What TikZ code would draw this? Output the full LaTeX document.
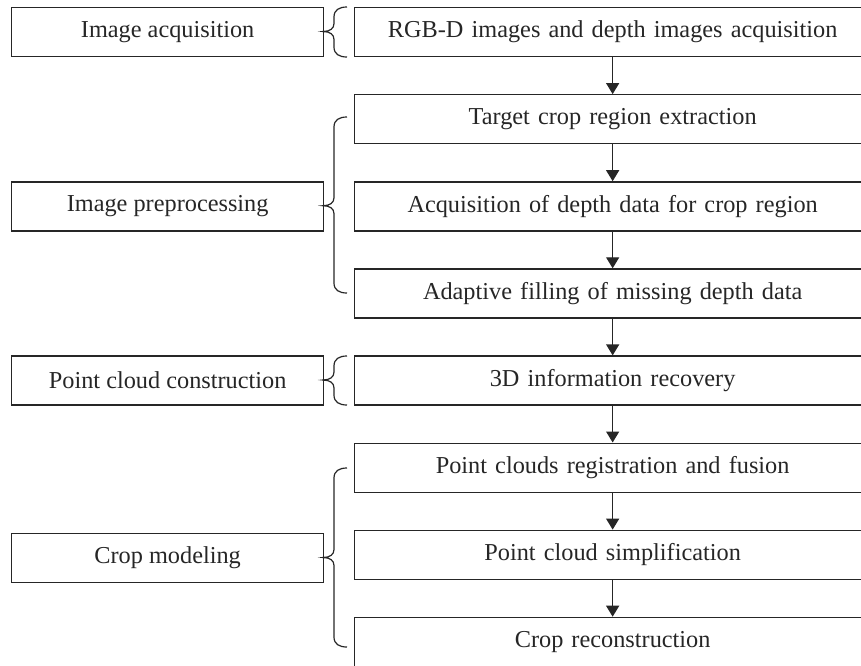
\documentclass[tikz,border=0pt]{standalone}
\usepackage{fontspec}
\setmainfont{Liberation Serif}
\usetikzlibrary{arrows.meta}
\definecolor{ink}{gray}{0.15}
% curly brace opening to the right: #1 top y, #2 tip y, #3 bottom y
\newcommand\groupbrace[3]{%
  \draw[bracepen] (347,#1) .. controls (339,#1) and (334,#1+3) .. (334,#1+10)
    -- (334,#2-8) .. controls (334,#2-3) and (330,#2) .. (323,#2)
    .. controls (330,#2) and (334,#2+3) .. (334,#2+8)
    -- (334,#3-10) .. controls (334,#3-3) and (339,#3) .. (347,#3);}
\begin{document}
\begin{tikzpicture}[x=1pt,y=-1pt,
  box/.style={draw=ink, line width=1.3pt, minimum height=49pt, inner sep=0pt,
    font=\fontsize{24.3}{29}\selectfont, text=ink, anchor=north west},
  stage/.style={box, minimum width=312pt},
  stepbox/.style={box, minimum width=540pt, text width=516pt, align=center},
  bracepen/.style={draw=ink, line width=1.2pt},
  flow/.style={draw=ink, line width=1.3pt, -{Triangle[length=11pt,width=13pt]}}]
\path[use as bounding box] (0,0) rectangle (861,665);
\clip (0,0) rectangle (861,665);

% processing steps (wide boxes running off the right edge; text centred on x=612)
\node[stepbox] (r1) at (354,7)     {RGB-D images and depth images acquisition\hspace*{24pt}};
\node[stepbox] (r2) at (354,94.1)  {Target crop region extraction\hspace*{24pt}};
\node[stepbox] (r3) at (354,181.2) {Acquisition of depth data for crop region\hspace*{24pt}};
\node[stepbox] (r4) at (354,268.3) {Adaptive filling of missing depth data\hspace*{24pt}};
\node[stepbox] (r5) at (354,355.4) {3D information recovery\hspace*{24pt}};
\node[stepbox] (r6) at (354,442.5) {Point clouds registration and fusion\hspace*{24pt}};
\node[stepbox] (r7) at (354,529.6) {Point cloud simplification\hspace*{24pt}};
\node[stepbox] (r8) at (354,616.7) {Crop reconstruction\hspace*{24pt}};

% stages
\node[stage] (s1) at (11,7)     {Image acquisition};
\node[stage] (s2) at (11,181.2) {Image preprocessing};
\node[stage] (s3) at (11,355.4) {Point cloud construction};
\node[stage] (s4) at (11,533)   {Crop modeling};

% flow between steps, down the column at x=612
\foreach \a/\b in {r1/r2,r2/r3,r3/r4,r4/r5,r5/r6,r6/r7,r7/r8}
  \draw[flow] ([xshift=-12pt]\a.south) -- ([xshift=-12pt]\b.north);

% braces grouping steps into stages
\groupbrace{7}{31.5}{57}
\groupbrace{117}{205.7}{293}
\groupbrace{356}{380}{405}
\groupbrace{468}{557.5}{647}
\end{tikzpicture}
\end{document}
